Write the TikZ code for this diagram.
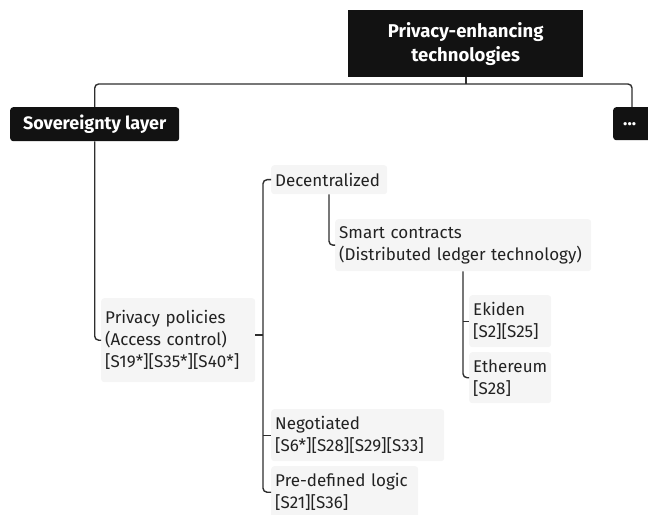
\documentclass[tikz,border=0pt]{standalone}
\usepackage{fontspec}
\setmainfont{Fira Sans}
\usetikzlibrary{positioning}
\definecolor{boxfill}{HTML}{F5F5F5}
\definecolor{linecol}{HTML}{2E2E2E}
\definecolor{txt}{HTML}{222222}
\definecolor{darkbox}{HTML}{121212}
\tikzset{
  leaf/.style={draw=none, fill=boxfill, rounded corners=3bp, anchor=north west,
    inner xsep=4bp, inner ysep=0pt, align=left, text=txt,
    font=\fontsize{17bp}{22bp}\selectfont},
  topbox/.style={fill=darkbox, rounded corners=3bp, anchor=north west, inner sep=0pt,
    text=white, font=\bfseries\fontsize{18bp}{24bp}\selectfont},
  link/.style={draw=linecol, line width=1.4bp, rounded corners=4bp}
}
\begin{document}
\begin{tikzpicture}[x=1bp, y=-1bp]
\useasboundingbox (0,0) rectangle (648,515);

% root and first level
\node[topbox, rounded corners=0pt, minimum width=235bp, minimum height=67bp, align=center,
  font=\bfseries\fontsize{18.5bp}{24bp}\selectfont]
  (root) at (348,10) {Privacy-enhancing\\technologies};
\node[topbox, minimum width=169bp, minimum height=34bp] (sov) at (10,107) {Sovereignty layer};
\node[topbox, minimum width=44bp, minimum height=33bp, text width=30bp, align=left, inner xsep=10bp]
  (more) at (613,107) {...};

% second and deeper levels
\node[leaf, text width=146bp, minimum height=84bp] (pp) at (101,298)
  {Privacy policies\\(Access control)\\{[S19*][S35*][S40*]}};
\node[leaf, text width=108bp, minimum height=29bp] (dec) at (271,165) {Decentralized};
\node[leaf, text width=248bp, minimum height=52bp] (sc) at (335,219)
  {Smart contracts\\(Distributed ledger technology)};
\node[leaf, text width=74bp, minimum height=52bp] (ek) at (469,295) {Ekiden\\{[S2][S25]}};
\node[leaf, text width=74bp, minimum height=51bp] (eth) at (469,352) {Ethereum\\{[S28]}};
\node[leaf, text width=165bp, minimum height=52bp] (neg) at (271,409)
  {Negotiated\\{[S6*][S28][S29][S33]}};
\node[leaf, text width=139bp, minimum height=52bp] (pre) at (271,466)
  {Pre-defined logic\\{[S21][S36]}};

% connectors
\coordinate (bus) at (466,84);
\draw[link] (root.south -| bus) -- (bus);
\draw[link] (sov.north) |- (bus) -| ([xshift=19bp]more.north west);

\draw[link] (sov.south) |- (pp.west);

\coordinate (trunk) at (263,335);
\draw[link] (pp.east |- trunk) -- (trunk);
\draw[link] (dec.west) -| (trunk) |- (pre.west);
\draw[link] (trunk |- neg.west) -- (neg.west);

\coordinate (scx) at (329,0);
\draw[link] (dec.south -| scx) |- (sc.west);

\coordinate (ekx) at (463,0);
\draw[link] (sc.south -| ekx) |- (eth.west);
\draw[link] (ekx |- ek.west) -- (ek.west);
\end{tikzpicture}
\end{document}
